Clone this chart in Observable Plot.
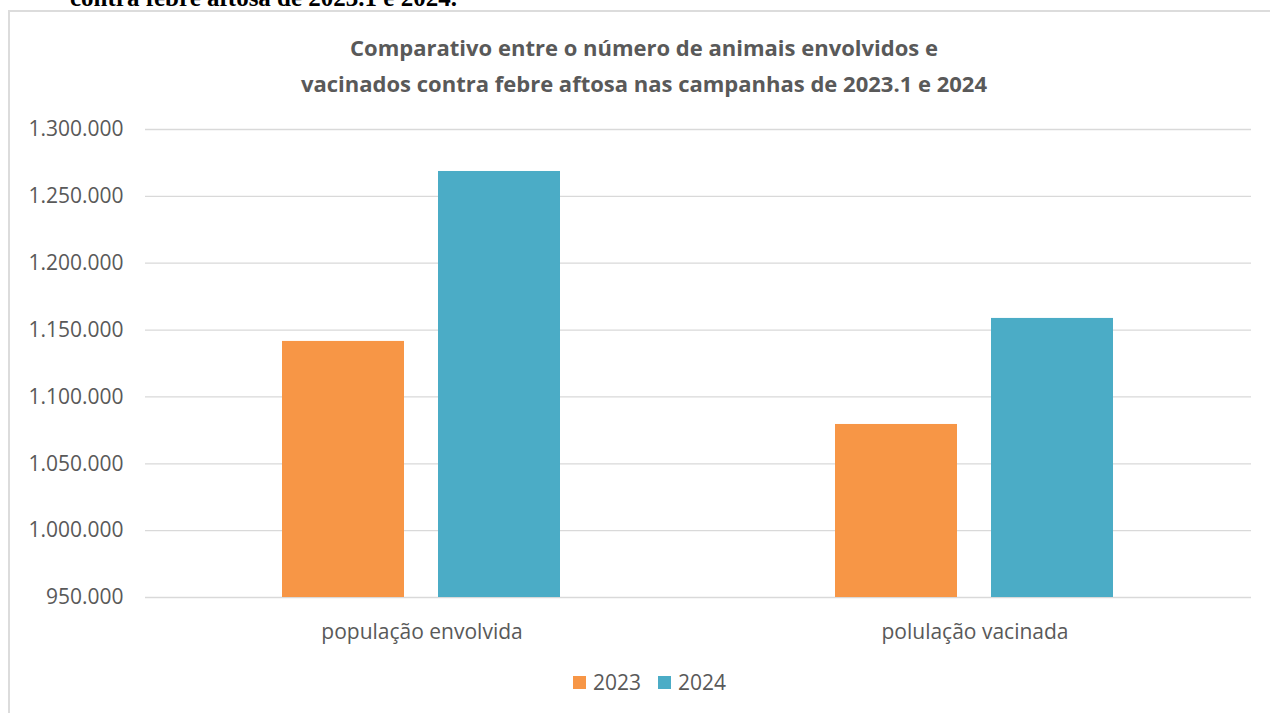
<!DOCTYPE html>
<html>
<head>
<meta charset="utf-8">
<script src="https://cdn.jsdelivr.net/npm/d3@7"></script>
<script src="https://cdn.jsdelivr.net/npm/@observablehq/plot@0.6"></script>
<style>
  html, body { margin: 0; padding: 0; background: #fff; }
  body { width: 1270px; height: 713px; overflow: hidden; position: relative; }
  #clip { position: absolute; left: 70px; top: -15px; font: bold 25px "Liberation Serif", "DejaVu Serif", serif; line-height: 25px; color: #000; white-space: nowrap; }
  #box { position: absolute; left: 8px; top: 10px; width: 1300px; height: 800px; border: 2px solid #DCDCDC; box-sizing: border-box; background: #fff; }
  #title { position: absolute; left: 0; top: 29px; width: 1288px; text-align: center; font: bold 22px "Open Sans", sans-serif; color: #595959; line-height: 36px; }
  #chart { position: absolute; left: 0; top: 100px; }
  .leg { position: absolute; font: 21px "Open Sans", sans-serif; color: #595959; line-height: 21px; }
  .sw { position: absolute; width: 13px; height: 13px; }
</style>
</head>
<body>
<div id="box"></div>
<div id="clip">contra febre aftosa de 2023.1 e 2024.</div>
<div id="title">Comparativo entre o número de animais envolvidos e<br>vacinados contra febre aftosa nas campanhas de 2023.1 e 2024</div>
<div id="chart"></div>
<div id="legend"></div>
<script>
const categories = ["população envolvida", "polulação vacinada"];
const years = ["2023", "2024"];
const values2023 = [1141500, 1079400];
const values2024 = [1268600, 1158700];
const colors = ["#F79646", "#4BACC6"];
const yTicks = [950000, 1000000, 1050000, 1100000, 1150000, 1200000, 1250000, 1300000];

const rows = [];
categories.forEach((c, i) => {
  rows.push({category: c, year: years[0], value: values2023[i]});
  rows.push({category: c, year: years[1], value: values2024[i]});
});

const fmt = d3.formatLocale({decimal: ",", thousands: ".", grouping: [3], currency: ["", ""]}).format(",d");

const chart = Plot.plot({
  width: 1270,
  height: 560,
  marginLeft: 145,
  marginRight: 19,
  marginTop: 29,
  marginBottom: 63,
  style: {fontFamily: "'Open Sans', sans-serif", fontSize: "21px", color: "#595959", background: "transparent"},
  fx: {domain: categories, padding: 0, axis: "bottom", tickSize: 0, tickPadding: 27, label: null},
  x: {domain: years, paddingInner: 0.2166, paddingOuter: 0.8726, axis: null},
  y: {domain: [yTicks[0], yTicks[yTicks.length - 1]], ticks: yTicks, tickFormat: fmt, tickSize: 0, tickPadding: 22, label: null},
  color: {domain: years, range: colors},
  marks: [
    Plot.ruleY(yTicks, {stroke: "#D9D9D9", strokeWidth: 1.3}),
    Plot.barY(rows, {fx: "category", x: "year", y1: yTicks[0], y2: "value", fill: "year"})
  ]
});
document.getElementById("chart").appendChild(chart);

const legend = document.getElementById("legend");
const legX = [573, 658];
years.forEach((y, i) => {
  const sw = document.createElement("div");
  sw.className = "sw";
  sw.style.left = legX[i] + "px";
  sw.style.top = "676px";
  sw.style.background = colors[i];
  legend.appendChild(sw);
  const t = document.createElement("div");
  t.className = "leg";
  t.style.left = (legX[i] + 20) + "px";
  t.style.top = "672px";
  t.textContent = y;
  legend.appendChild(t);
});
</script>
</body>
</html>
